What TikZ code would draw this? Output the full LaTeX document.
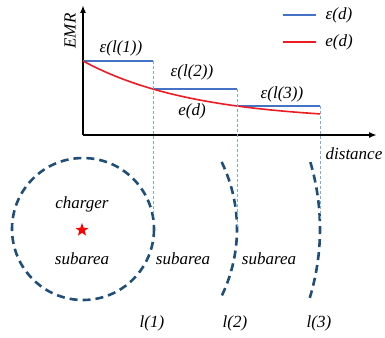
\documentclass[tikz,border=0pt]{standalone}
\usepackage{fontspec}
\setmainfont{Liberation Serif}
\usetikzlibrary{arrows.meta,shapes.geometric}
\definecolor{stepblue}{RGB}{68,114,196}
\definecolor{curvered}{RGB}{237,28,36}
\definecolor{ringblue}{RGB}{31,78,121}
\definecolor{guideblue}{RGB}{125,170,220}

\begin{document}
\begin{tikzpicture}[x=1pt,y=-1pt,font=\fontsize{17}{20}\selectfont\itshape,>={Latex[length=8pt,width=6pt]},
  axis/.style={->,line width=1.6pt},
  stepline/.style={stepblue,line width=1.6pt},
  ecurve/.style={curvered,line width=1.6pt},
  guide/.style={guideblue,densely dashed,line width=0.6pt},
  ring/.style={ringblue,line width=2.6pt,dash pattern=on 8pt off 5pt},
  lbl/.style={inner sep=1pt}]
\useasboundingbox (0,0) rectangle (385,337);

% axes
\coordinate (O) at (83,135);
\coordinate (ytop) at (83,5);
\coordinate (xend) at (377,135);
\draw[axis] (O) -- (ytop);
\draw[axis] (O) -- (xend);
\node[lbl,rotate=90] (emr) at (70,31) {EMR};
\node[lbl] (dist) at (354,154) {distance};

% legend
\coordinate (leg1a) at (283,15); \coordinate (leg1b) at (316,15);
\coordinate (leg2a) at (283,42); \coordinate (leg2b) at (316,42);
\draw[stepline] (leg1a) -- (leg1b);
\draw[ecurve] (leg2a) -- (leg2b);
\node[lbl] (legeps) at (339,15) {ε(d)};
\node[lbl] (lege) at (339,42) {e(d)};

% step bound and EMR curve
\coordinate (s0) at (83,61);
\coordinate (s1) at (153,61);  \coordinate (t1) at (153,89);
\coordinate (s2) at (237,89);  \coordinate (t2) at (237,106);
\coordinate (s3) at (320,106);
\draw[stepline] (s0) -- (s1);
\draw[stepline] (t1) -- (s2);
\draw[stepline] (t2) -- (s3);
\draw[ecurve] plot[domain=0:237,samples=60] ({83+\x},{61+60*(1-exp(-0.009*\x))});
\node[lbl] (eps1) at (121,48) {ε(l(1))};
\node[lbl] (eps2) at (192,72) {ε(l(2))};
\node[lbl] (eps3) at (282,94) {ε(l(3))};
\node[lbl] (ed) at (192,111) {e(d)};

% subareas
\coordinate (c) at (83,229);
\draw[ring] (c) circle[radius=71];
\draw[ring] ([shift={(-25.8:154)}]c) arc[start angle=-25.8,end angle=27.4,radius=154];
\draw[ring] ([shift={(-16.4:237)}]c) arc[start angle=-16.4,end angle=16.9,radius=237];
\coordinate (g1) at (153,216);
\coordinate (g2) at (237,228);
\coordinate (g3) at (320,221);
\draw[guide] (s1) -- (g1);
\draw[guide] (s2) -- (g2);
\draw[guide] (s3) -- (g3);

\node[lbl] (charger) at (82,204) {charger};
\node[star,star points=5,star point ratio=2.5,fill=red,minimum size=14pt,inner sep=0pt] (star) at (82,230) {};
\node[lbl] (sub0) at (82,259) {subarea};
\node[lbl] (sub1) at (183,259) {subarea};
\node[lbl] (sub2) at (269,259) {subarea};
\node[lbl] (l1) at (152,323) {l(1)};
\node[lbl] (l2) at (235,323) {l(2)};
\node[lbl] (l3) at (319,323) {l(3)};
\end{tikzpicture}
\end{document}
